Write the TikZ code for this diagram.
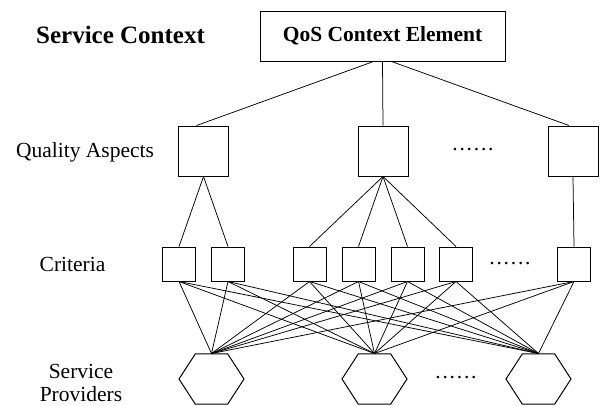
\documentclass[tikz,border=0pt]{standalone}
\usepackage{fontspec}
\setmainfont{Liberation Serif}
\usetikzlibrary{shapes.geometric}
\newcommand{\sixdots}{.\kern1.8pt.\kern1.8pt.\kern1.8pt.\kern1.8pt.\kern1.8pt.}
\tikzstyle{rootBox} = [
 rectangle,
 draw,
 line width=1pt,
 minimum width=245pt,
 minimum height=50pt,
 font=\fontsize{21.5}{24}\selectfont\bfseries
]
\tikzstyle{aspectBox} = [
 rectangle,
 draw,
 line width=1pt,
 minimum width=50pt,
 minimum height=50pt
]
\tikzstyle{criterion} = [
 rectangle,
 draw,
 line width=1pt,
 minimum width=33pt,
 minimum height=34pt
]
\tikzstyle{provider} = [
 regular polygon,
 regular polygon sides=6,
 draw,
 line width=1pt,
 minimum size=65pt,
 inner sep=0pt,
 yscale=0.89,
 transform shape
]
\tikzstyle{levelLabel} = [
 align = center,
 font=\fontsize{21.5}{23}\selectfont
]
\tikzstyle{moreDots} = [font=\fontsize{21.5}{23}\selectfont]
\tikzstyle{link} = [line width=0.75pt]

\begin{document}
\begin{tikzpicture}[x=1pt, y=-1pt]
  \useasboundingbox (0,0) rectangle (600,405);

  % left hand labels
  \node [font=\fontsize{25}{28}\selectfont\bfseries] (title) at (120.5,35) {Service Context};
  \node [levelLabel] (aspectsLabel) at (85,152) {Quality Aspects};
  \node [levelLabel] (criteriaLabel) at (72.5,264) {Criteria};
  \node [levelLabel] (providersLabel) at (81,383) {Service\\Providers};

  % top element
  \node [rootBox] (root) at (382.5,36) {QoS Context Element};

  % quality aspects
  \node [aspectBox] (qa1) at (203.5,151) {};
  \node [aspectBox] (qa2) at (383,151) {};
  \node [aspectBox] (qa3) at (573,151) {};
  \node [moreDots] (qaDots) at (473,150) {\sixdots};

  % criteria
  \node [criterion] (cr1) at (179,264) {};
  \node [criterion] (cr2) at (228,264) {};
  \node [criterion] (cr3) at (309.5,264) {};
  \node [criterion] (cr4) at (358.5,264) {};
  \node [criterion] (cr5) at (407.5,264) {};
  \node [criterion] (cr6) at (456,264) {};
  \node [criterion] (cr7) at (574,264) {};
  \node [moreDots] (crDots) at (510,264) {\sixdots};

  % service providers
  \node [provider] (sp1) at (211.5,379) {};
  \node [provider] (sp2) at (374.5,379) {};
  \node [provider] (sp3) at (538.5,379) {};
  \node [moreDots] (spDots) at (456,378) {\sixdots};

  % context -> aspects
  \draw [link] ([xshift=-9pt]root.south) -- ([xshift=-7pt]qa1.north);
  \draw [link] (root.south) -- (qa2.north);
  \draw [link] ([xshift=9pt]root.south) -- ([xshift=-4pt]qa3.north);

  % aspects -> criteria
  \draw [link] (qa1.south) -- (cr1.north);
  \draw [link] (qa1.south) -- (cr2.north);
  \draw [link] (qa2.south) -- (cr3.north);
  \draw [link] (qa2.south) -- (cr4.north);
  \draw [link] (qa2.south) -- (cr5.north);
  \draw [link] (qa2.south) -- (cr6.north);
  \draw [link] (qa3.south) -- (cr7.north);

  % criteria -> providers
  \foreach \c in {1,...,7}
    \foreach \p in {1,2,3}
      \draw [link] (cr\c.south) -- (sp\p.north);
\end{tikzpicture}
\end{document}
